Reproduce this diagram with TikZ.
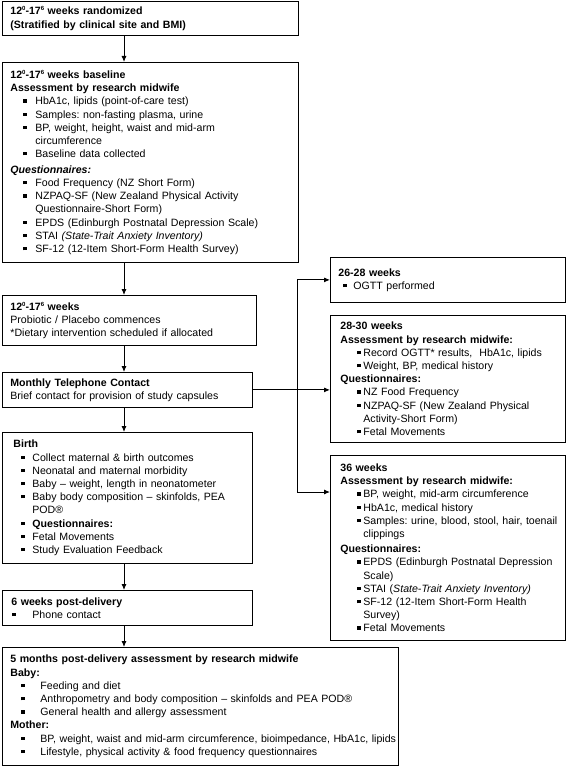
\documentclass[tikz,border=0pt]{standalone}
\usepackage{fontspec}
\setmainfont{Liberation Sans}
\usetikzlibrary{arrows.meta}
\frenchspacing

% bullet: offset of the square, then distance to the text
\newcommand{\bul}[2]{\hspace*{#1pt}\makebox[#2pt][l]{\rule[2.2pt]{3.3pt}{3.3pt}}}
\newcommand{\sups}[1]{\raisebox{4.2pt}{\fontsize{6}{6}\selectfont #1}}
\newcommand{\wk}[1]{12\sups{0}-17\sups{6} weeks #1}

\begin{document}
\begin{tikzpicture}[
    x=1pt, y=-1pt,
    box/.style = {
      shape=rectangle,
      draw,
      line width=0.8pt,
      anchor=north west,
      align=left,
      inner ysep=0pt,
      font=\fontsize{10.6}{13.2}\selectfont
    },
    arrow/.style = {
      -{Latex[length=6pt,width=5pt]},
      line width=0.9pt
    }
  ]
    \useasboundingbox (0,0) rectangle (567,767);

    % Left column
    \node[box, inner xsep=8pt, text width=280pt, minimum height=34pt] (rand) at (2,1)
      {\textbf{\wk{randomized}}\\
       \textbf{(Stratified by clinical site and BMI)}};

    \node[box, inner xsep=8pt, text width=280pt, minimum height=200pt] (base) at (2,62)
      {\textbf{\wk{baseline}}\\
       \textbf{Assessment by research midwife}\\
       \bul{13}{12}HbA1c, lipids (point-of-care test)\\
       \bul{13}{12}Samples: non-fasting plasma, urine\\
       \bul{13}{12}BP, weight, height, waist and mid-arm\\
       \hspace*{25pt}circumference\\
       \bul{13}{12}Baseline data collected\\[2.5pt]
       \textbf{\textit{Questionnaires:}}\\
       \bul{13}{12}Food Frequency (NZ Short Form)\\
       \bul{13}{12}NZPAQ-SF (New Zealand Physical Activity\\
       \hspace*{25pt}Questionnaire-Short Form)\\
       \mbox{\bul{13}{12}EPDS (Edinburgh Postnatal Depression Scale)}\\
       \bul{13}{12}STAI \textit{(State-Trait Anxiety Inventory)}\\
       \mbox{\bul{13}{12}SF-12 (12-Item Short-Form Health Survey)}};

    \node[box, inner xsep=8pt, text width=238pt, minimum height=50pt] (probio) at (2,295)
      {\textbf{\wk{}}\\
       Probiotic / Placebo commences\\
       *{}*Dietary intervention scheduled if allocated};

    \node[box, inner xsep=8pt, text width=234pt, minimum height=35pt] (phone) at (2,372)
      {\textbf{Monthly Telephone Contact}\\
       Brief contact for provision of study capsules};

    \node[box, inner xsep=11pt, text width=228pt, minimum height=131pt] (birth) at (2,432)
      {\textbf{Birth}\\
       \bul{8}{11}Collect maternal \& birth outcomes\\
       \bul{8}{11}Neonatal and maternal morbidity\\
       \bul{8}{11}Baby -- weight, length in neonatometer\\
       \mbox{\bul{8}{11}Baby body composition -- skinfolds, PEA}\\
       \hspace*{19pt}POD®\\
       \bul{8}{11}\textbf{Questionnaires:}\\
       \bul{8}{11}Fetal Movements\\
       \bul{8}{11}Study Evaluation Feedback};

    \node[box, inner xsep=9pt, text width=232pt, minimum height=35pt] (sixwk) at (2,590)
      {\textbf{6 weeks post-delivery}\\
       \bul{1}{20}Phone contact};

    \node[box, inner xsep=8pt, text width=380pt, minimum height=118pt] (fivemo) at (2,647)
      {\textbf{5 months post-delivery assessment by research midwife}\\
       \textbf{Baby:}\\
       \bul{11}{19}Feeding and diet\\
       \bul{11}{19}Anthropometry and body composition -- skinfolds and PEA POD®\\
       \bul{11}{19}General health and allergy assessment\\
       \textbf{Mother:}\\
       \mbox{\bul{11}{19}BP, weight, waist and mid-arm circumference, bioimpedance, HbA1c, lipids}\\
       \bul{11}{19}Lifestyle, physical activity \& food frequency questionnaires};

    % Right column
    \node[box, inner xsep=8pt, text width=219pt, minimum height=45pt] (ogtt) at (330,257)
      {\textbf{26-28 weeks}\\
       \bul{5}{10}OGTT performed};

    \node[box, inner xsep=10pt, text width=215pt, minimum height=127pt] (wk28) at (330,315)
      {\textbf{28-30 weeks}\\
       \textbf{Assessment by research midwife:}\\
       \bul{17}{6}Record OGTT* results,\ \ HbA1c, lipids\\
       \bul{17}{6}Weight, BP, medical history\\
       \textbf{Questionnaires:}\\
       \bul{17}{6}NZ Food Frequency\\
       \bul{17}{6}NZPAQ-SF (New Zealand Physical\\
       \hspace*{23pt}Activity-Short Form)\\
       \bul{17}{6}Fetal Movements};

    \node[box, inner xsep=10pt, text width=215pt, minimum height=185pt] (wk36) at (330,455)
      {\textbf{36 weeks}\\
       \textbf{Assessment by research midwife:}\\
       \bul{17}{6}BP, weight, mid-arm circumference\\
       \bul{17}{6}HbA1c, medical history\\
       \mbox{\bul{17}{6}Samples: urine, blood, stool, hair, toenail}\\
       \hspace*{23pt}clippings\\[2pt]
       \textbf{Questionnaires:}\\
       \mbox{\bul{17}{6}EPDS (Edinburgh Postnatal Depression}\\
       \hspace*{23pt}Scale)\\
       \bul{17}{6}STAI (\textit{State-Trait Anxiety Inventory)}\\
       \bul{17}{6}SF-12 (12-Item Short-Form Health\\
       \hspace*{23pt}Survey)\\
       \bul{17}{6}Fetal Movements};

    % Spine and bus
    \coordinate (spine) at (124,0);
    \coordinate (bus) at (297,0);
    \coordinate (wk36in) at ([yshift=-37pt]wk36.north west);

    % Arrows
    \draw[arrow] (rand.south -| spine) -- (base.north -| spine);
    \draw[arrow] (base.south -| spine) -- (probio.north -| spine);
    \draw[arrow] (probio.south -| spine) -- (phone.north -| spine);
    \draw[arrow] (phone.south -| spine) -- (birth.north -| spine);
    \draw[arrow] (birth.south -| spine) -- (sixwk.north -| spine);
    \draw[arrow] (sixwk.south -| spine) -- (fivemo.north -| spine);
    \draw[arrow] (phone.east) -- (phone.east -| wk28.west);
    \draw[arrow] (bus |- ogtt.west) -- (ogtt.west);
    \draw[arrow] (bus |- ogtt.west) |- (wk36in);

  \end{tikzpicture}
\end{document}
